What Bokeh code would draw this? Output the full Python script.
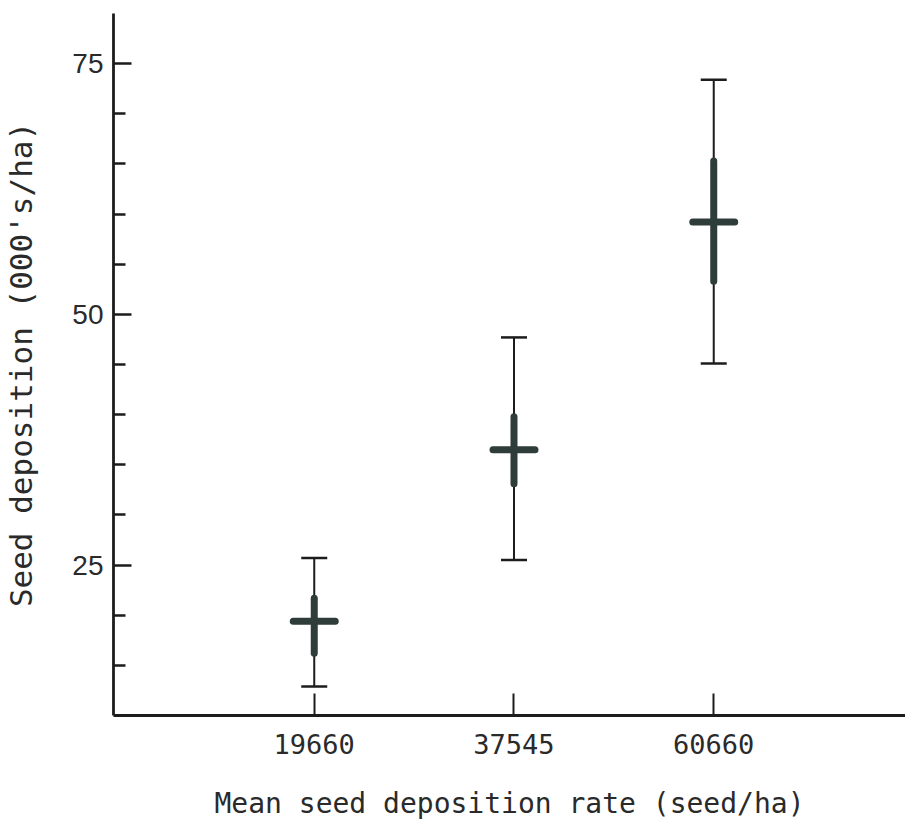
from bokeh.plotting import figure
from bokeh.models import Range1d, FixedTicker, ColumnDataSource, Whisker, TeeHead
from bokeh.embed import file_html
from bokeh.resources import INLINE

# Mean seed deposition rates (seed/ha) used as the treatment categories
rates = ["19660", "37545", "60660"]
# Observed seed deposition (000's/ha)
means = [19.4, 36.5, 59.2]
range_low = [12.9, 25.5, 45.1]
range_high = [25.7, 47.7, 73.4]
se_low = [16.2, 33.1, 53.3]
se_high = [21.7, 39.8, 65.3]

y_major = [25, 50, 75]
y_minor = [15, 20, 30, 35, 40, 45, 55, 60, 65, 70]

xpos = list(range(1, len(rates) + 1))
half_bar = 0.105  # half length of the horizontal mean bar, in x units

src = ColumnDataSource(dict(
    x=xpos, mean=means, lo=range_low, hi=range_high,
    se_lo=se_low, se_hi=se_high,
    x0=[v - half_bar for v in xpos], x1=[v + half_bar for v in xpos],
))

INK = "#1c1c1c"
MARK = "#2e3c3a"

p = figure(width=905, height=831, output_backend="svg", toolbar_location=None,
           x_range=Range1d(-0.005, 3.96), y_range=Range1d(10, 80),
           min_border_left=112, min_border_right=0, min_border_top=13,
           min_border_bottom=116)
p.outline_line_color = None
p.xgrid.visible = False
p.ygrid.visible = False
p.background_fill_color = "white"
p.border_fill_color = "white"

# range whiskers with tee caps
p.add_layout(Whisker(source=src, base="x", lower="lo", upper="hi",
                     line_color=INK, line_width=2,
                     lower_head=TeeHead(size=26, line_color=INK, line_width=2.5),
                     upper_head=TeeHead(size=26, line_color=INK, line_width=2.5)))

# thick inner band
p.segment(x0="x", y0="se_lo", x1="x", y1="se_hi", source=src,
          line_color=MARK, line_width=7, line_cap="round")
# horizontal mean bar
p.segment(x0="x0", y0="mean", x1="x1", y1="mean", source=src,
          line_color=MARK, line_width=7, line_cap="round")

# y axis
ya = p.yaxis[0]
ya.ticker = FixedTicker(ticks=y_major, minor_ticks=y_minor)
ya.axis_line_width = 2.8
ya.axis_line_color = INK
ya.major_tick_in = 18
ya.major_tick_out = 0
ya.major_tick_line_width = 2.5
ya.major_tick_line_color = INK
ya.minor_tick_in = 12
ya.minor_tick_out = 0
ya.minor_tick_line_width = 2.5
ya.minor_tick_line_color = INK
ya.major_label_text_font = "Liberation Sans"
ya.major_label_text_font_size = "28px"
ya.major_label_text_color = "#2a2a2a"
ya.major_label_standoff = 10
ya.axis_label = "Seed deposition (000's/ha)"
ya.axis_label_text_font = "DejaVu Sans Mono"
ya.axis_label_text_font_size = "31px"
ya.axis_label_text_font_style = "normal"
ya.axis_label_text_color = "#2a2a2a"
ya.axis_label_standoff = 30

# x axis
xa = p.xaxis[0]
xa.ticker = FixedTicker(ticks=xpos, minor_ticks=[])
xa.major_label_overrides = {v: r for v, r in zip(xpos, rates)}
xa.axis_line_width = 2.8
xa.axis_line_color = INK
xa.major_tick_in = 22
xa.major_tick_out = 0
xa.major_tick_line_width = 2
xa.major_tick_line_color = INK
xa.minor_tick_in = 0
xa.minor_tick_out = 0
xa.major_label_text_font = "DejaVu Sans Mono"
xa.major_label_text_font_size = "27px"
xa.major_label_text_color = "#2a2a2a"
xa.major_label_standoff = 18
xa.axis_label = "Mean seed deposition rate (seed/ha)"
xa.axis_label_text_font = "DejaVu Sans Mono"
xa.axis_label_text_font_size = "28px"
xa.axis_label_text_font_style = "normal"
xa.axis_label_text_color = "#2a2a2a"
xa.axis_label_standoff = 30

open("out.html", "w").write(file_html(p, INLINE))
